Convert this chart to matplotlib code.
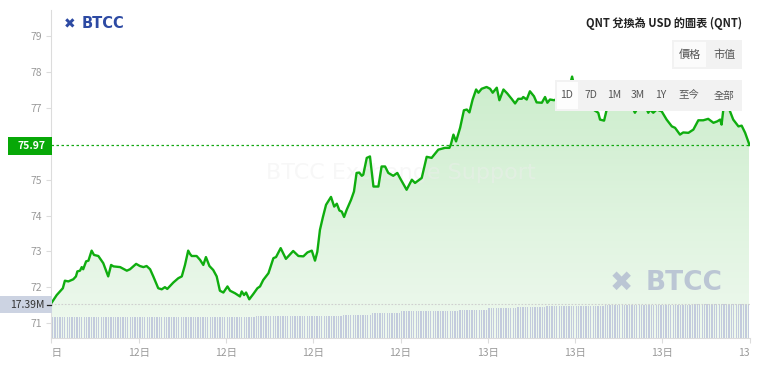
import numpy as np
import matplotlib
matplotlib.use("Agg")
import matplotlib.pyplot as plt
from matplotlib.patches import Polygon, Rectangle
from matplotlib.colors import LinearSegmentedColormap
from matplotlib.transforms import Bbox, TransformedBbox

plt.rcParams['font.family'] = ['Noto Sans CJK TC', 'DejaVu Sans']

# QNT / USD, one day, time in hours from the left edge
hours = [0.00, 0.18, 0.39, 0.46, 0.58, 0.75, 0.84, 0.89, 0.98, 1.04, 1.09, 1.19, 1.27, 1.38, 1.46,
         1.61, 1.78, 1.95, 2.05, 2.13, 2.36, 2.59, 2.70, 2.91, 3.04, 3.16, 3.27, 3.39, 3.50, 3.67,
         3.79, 3.90, 3.98, 4.19, 4.36, 4.48, 4.59, 4.70, 4.76, 4.82, 4.99, 5.11, 5.22, 5.31, 5.43,
         5.56, 5.68, 5.79, 5.91, 6.05, 6.14, 6.31, 6.48, 6.54, 6.62, 6.69, 6.80, 6.94, 7.08, 7.17,
         7.28, 7.46, 7.63, 7.72, 7.88, 8.06, 8.31, 8.49, 8.66, 8.80, 8.95, 9.06, 9.14, 9.23, 9.33,
         9.44, 9.61, 9.72, 9.81, 9.90, 9.98, 10.06, 10.15, 10.30, 10.40, 10.49, 10.58, 10.67, 10.72,
         10.84, 10.95, 11.07, 11.24, 11.35, 11.47, 11.58, 11.75, 11.89, 11.98, 12.21, 12.39, 12.50,
         12.73, 12.90, 13.07, 13.30, 13.53, 13.68, 13.73, 13.82, 13.91, 14.05, 14.18, 14.28, 14.37,
         14.48, 14.60, 14.68, 14.79, 14.96, 15.08, 15.17, 15.31, 15.40, 15.54, 15.67, 15.82, 15.94,
         16.05, 16.17, 16.22, 16.34, 16.45, 16.59, 16.68, 16.86, 16.97, 17.05, 17.14, 17.28, 17.48,
         17.69, 17.83, 17.90, 18.00, 18.17, 18.38, 18.52, 18.63, 18.80, 18.86, 19.00, 19.09, 19.27,
         19.48, 19.69, 19.82, 20.01, 20.06, 20.24, 20.41, 20.52, 20.58, 20.69, 20.81, 20.98, 21.15,
         21.33, 21.44, 21.61, 21.72, 21.90, 22.07, 22.24, 22.41, 22.58, 22.76, 22.89, 22.99, 23.04,
         23.12, 23.19, 23.27, 23.33, 23.44, 23.62, 23.73, 23.85, 24.00]
price = [71.56, 71.78, 71.97, 72.18, 72.16, 72.22, 72.30, 72.44, 72.46, 72.56, 72.50, 72.72, 72.74, 73.02, 72.90,
         72.87, 72.67, 72.30, 72.62, 72.58, 72.56, 72.46, 72.50, 72.65, 72.59, 72.56, 72.59, 72.50, 72.30, 71.97,
         71.94, 72.00, 71.95, 72.13, 72.25, 72.30, 72.62, 73.02, 72.93, 72.87, 72.87, 72.76, 72.62, 72.84, 72.59,
         72.48, 72.30, 71.90, 71.85, 72.02, 71.90, 71.83, 71.74, 71.88, 71.78, 71.85, 71.66, 71.81, 71.97, 72.02,
         72.20, 72.39, 72.81, 72.84, 73.09, 72.79, 73.01, 72.87, 72.86, 72.97, 73.02, 72.74, 72.99, 73.60, 73.95,
         74.30, 74.52, 74.25, 74.33, 74.14, 74.11, 73.96, 74.16, 74.44, 74.67, 75.19, 75.20, 75.11, 75.14,
         75.61, 75.65, 74.81, 74.81, 75.37, 75.37, 75.19, 75.11, 75.19, 75.05, 74.72, 75.00, 74.91,
         75.05, 75.64, 75.61, 75.84, 75.89, 75.89, 75.98, 76.26, 76.07, 76.45, 76.94, 76.96, 76.88,
         77.24, 77.52, 77.43, 77.54, 77.59, 77.54, 77.43, 77.57, 77.22, 77.52, 77.41, 77.26, 77.13,
         77.26, 77.26, 77.31, 77.24, 77.47, 77.33, 77.16, 77.15, 77.31, 77.15, 77.24, 77.22, 77.29,
         77.46, 77.66, 77.88, 77.52, 77.29, 77.24, 77.13, 76.96, 76.87, 76.68, 76.65, 76.96, 77.24,
         77.35, 77.18, 77.29, 76.96, 76.87, 77.13, 77.07, 76.87, 76.96, 76.87, 76.96, 76.91, 76.68,
         76.49, 76.45, 76.26, 76.32, 76.31, 76.40, 76.66, 76.66, 76.70, 76.59, 76.63, 76.68, 76.54,
         77.10, 77.29, 77.05, 76.91, 76.68, 76.49, 76.51, 76.31, 75.97]

# hourly volume levels (M), each hour has 12 five-minute bars
volume_hourly = [10.9, 10.9, 10.9, 10.9, 10.9, 10.9, 10.9, 11.0, 11.1, 11.4, 12.0, 12.8,
                 13.6, 14.0, 14.5, 15.2, 15.8, 16.3, 16.6, 16.8, 16.9, 17.0, 17.2, 17.39]

xtick_hours = [0, 3, 6, 9, 12, 15, 18, 21, 24]
xtick_labels = ['12日', '12日', '12日', '12日', '12日', '13日', '13日', '13日', '13日']
# 76 sits under the last-price badge, so it is not labelled
ytick_vals = [71, 72, 73, 74, 75, 77, 78, 79]
last_price = 75.97
last_volume = 17.39

W, H = 763, 366
fig = plt.figure(figsize=(W / 100, H / 100), dpi=100)
fig.patch.set_facecolor('white')

def fx(px):
    return px / W

def fy(py):
    return 1 - py / H

ax_l, ax_r, ax_t, ax_b = 51.5, 749.5, 10, 338
ax = fig.add_axes([fx(ax_l), fy(ax_b), (ax_r - ax_l) / W, (ax_b - ax_t) / H])
ylo, yhi = 70.58, 79.74

# gradient fill under the price line
verts = [(hours[0], ylo)] + list(zip(hours, price)) + [(hours[-1], ylo)]
poly = Polygon(verts, closed=True, facecolor='none', edgecolor='none')
ax.add_patch(poly)
cmap = LinearSegmentedColormap.from_list('g', ['#eff9ef', '#ccedcc'])
grad = np.linspace(0, 1, 256).reshape(-1, 1)
im = ax.imshow(grad, extent=[0, 24, ylo, max(price)], origin='lower', cmap=cmap,
               aspect='auto', zorder=1, interpolation='bilinear')
im.set_clip_path(poly)

ax.plot(hours, price, color='#0fad0f', lw=1.7, zorder=4, solid_joinstyle='round')
ax.axhline(last_price, color='#13a813', lw=0.9, ls=(0, (2, 2)), zorder=3)

ax.text(12, 75.2, 'BTCC Exchange Support', fontsize=16, color='#eeeeee', alpha=0.45,
        ha='center', va='center', family=['DejaVu Sans'], zorder=2)

ax.set_xlim(0, 24)
ax.set_ylim(ylo, yhi)
ax.set_facecolor('none')
for s in ['top', 'right']:
    ax.spines[s].set_visible(False)
for s in ['left', 'bottom']:
    ax.spines[s].set_color('#dcdcdc')
    ax.spines[s].set_linewidth(0.8)
ax.set_yticks(ytick_vals)
ax.set_xticks(xtick_hours)
ax.set_xticklabels(xtick_labels)
ax.tick_params(axis='both', colors='#dcdcdc', labelcolor='#9a9a9a', labelsize=7.5,
               length=3.5, width=0.8)
ax.tick_params(axis='x', pad=4)
clip = TransformedBbox(Bbox([[0, -1], [1.001, 1]]), ax.transAxes)
for t in ax.get_xticklabels():
    t.set_clip_box(clip)
    t.set_clip_on(True)

# volume bars on a twin axis
ax2 = ax.twinx()
ax2.set_zorder(ax.get_zorder() + 1)
ax2.patch.set_visible(False)
vol = np.repeat(volume_hourly, 12)
bar_x = (np.arange(len(vol)) + 0.5) * 24 / len(vol)
ax2.bar(bar_x, vol, width=0.045, color='#c3cbdd', edgecolor='none')
ax2.axhline(last_volume, color='#cfcfcf', lw=0.8, ls=(0, (1.5, 1.5)))
ax2.set_ylim(0, last_volume * (ax_b - ax_t) / 34)
ax2.set_xlim(0, 24)
ax2.axis('off')

# price / volume badges on the left
fig.add_artist(Rectangle((fx(8), fy(155)), fx(44), 18 / H, transform=fig.transFigure,
                         facecolor='#07a807', edgecolor='none'))
fig.text(fx(45), fy(146), f'{last_price:.2f}', color='white', fontsize=7.5,
         fontweight='bold', ha='right', va='center')
fig.add_artist(Rectangle((fx(0), fy(313)), fx(52), 17 / H, transform=fig.transFigure,
                         facecolor='#ccd3e2', edgecolor='none'))
fig.text(fx(44), fy(304.5), f'{last_volume:.2f}M', color='#333333', fontsize=7.5,
         ha='right', va='center')
fig.add_artist(plt.Line2D([fx(47), fx(51)], [fy(304.5), fy(304.5)], color='#222222', lw=0.9))

# logos
fig.text(fx(64), fy(24), '✖', color='#2d4aa3', fontsize=10, ha='left', va='center',
         family=['DejaVu Sans'])
fig.text(fx(82), fy(24), 'BTCC', color='#2d4aa3', fontsize=10.5, fontweight='bold',
         ha='left', va='center', family=['DejaVu Sans'])
fig.text(fx(610), fy(283), '✖', color='#b7c1d2', fontsize=20, ha='left', va='center',
         family=['DejaVu Sans'], alpha=0.9)
fig.text(fx(646), fy(283), 'BTCC', color='#b7c1d2', fontsize=19, fontweight='bold',
         ha='left', va='center', family=['DejaVu Sans'], alpha=0.9)

# title and buttons
fig.text(fx(742), fy(23), 'QNT 兌換為 USD 的圖表 (QNT)', color='#222222', fontsize=8,
         fontweight='bold', ha='right', va='center')

def box(x0, y0, x1, y1, color):
    fig.add_artist(Rectangle((fx(x0), fy(y1)), (x1 - x0) / W, (y1 - y0) / H,
                             transform=fig.transFigure, facecolor=color, edgecolor='none',
                             zorder=10))

box(672, 40, 742, 69, '#f2f2f2')
box(674, 42, 706, 67, '#fbfbfb')
fig.text(fx(690), fy(55), '價格', color='#555555', fontsize=8, ha='center', va='center', zorder=11)
fig.text(fx(724), fy(55), '市值', color='#555555', fontsize=8, ha='center', va='center', zorder=11)

box(555, 80, 742, 111, '#f2f2f2')
box(557, 82, 578, 109, '#fdfdfd')
btn_labels = ['1D', '7D', '1M', '3M', '1Y', '至今', '全部']
btn_x = [567, 591, 614, 638, 661, 689, 724]
for lbl, bx in zip(btn_labels, btn_x):
    fig.text(fx(bx), fy(95.5), lbl, color='#555555', fontsize=7.5, ha='center', va='center',
             zorder=11)

fig.savefig('out.png', dpi=100)
